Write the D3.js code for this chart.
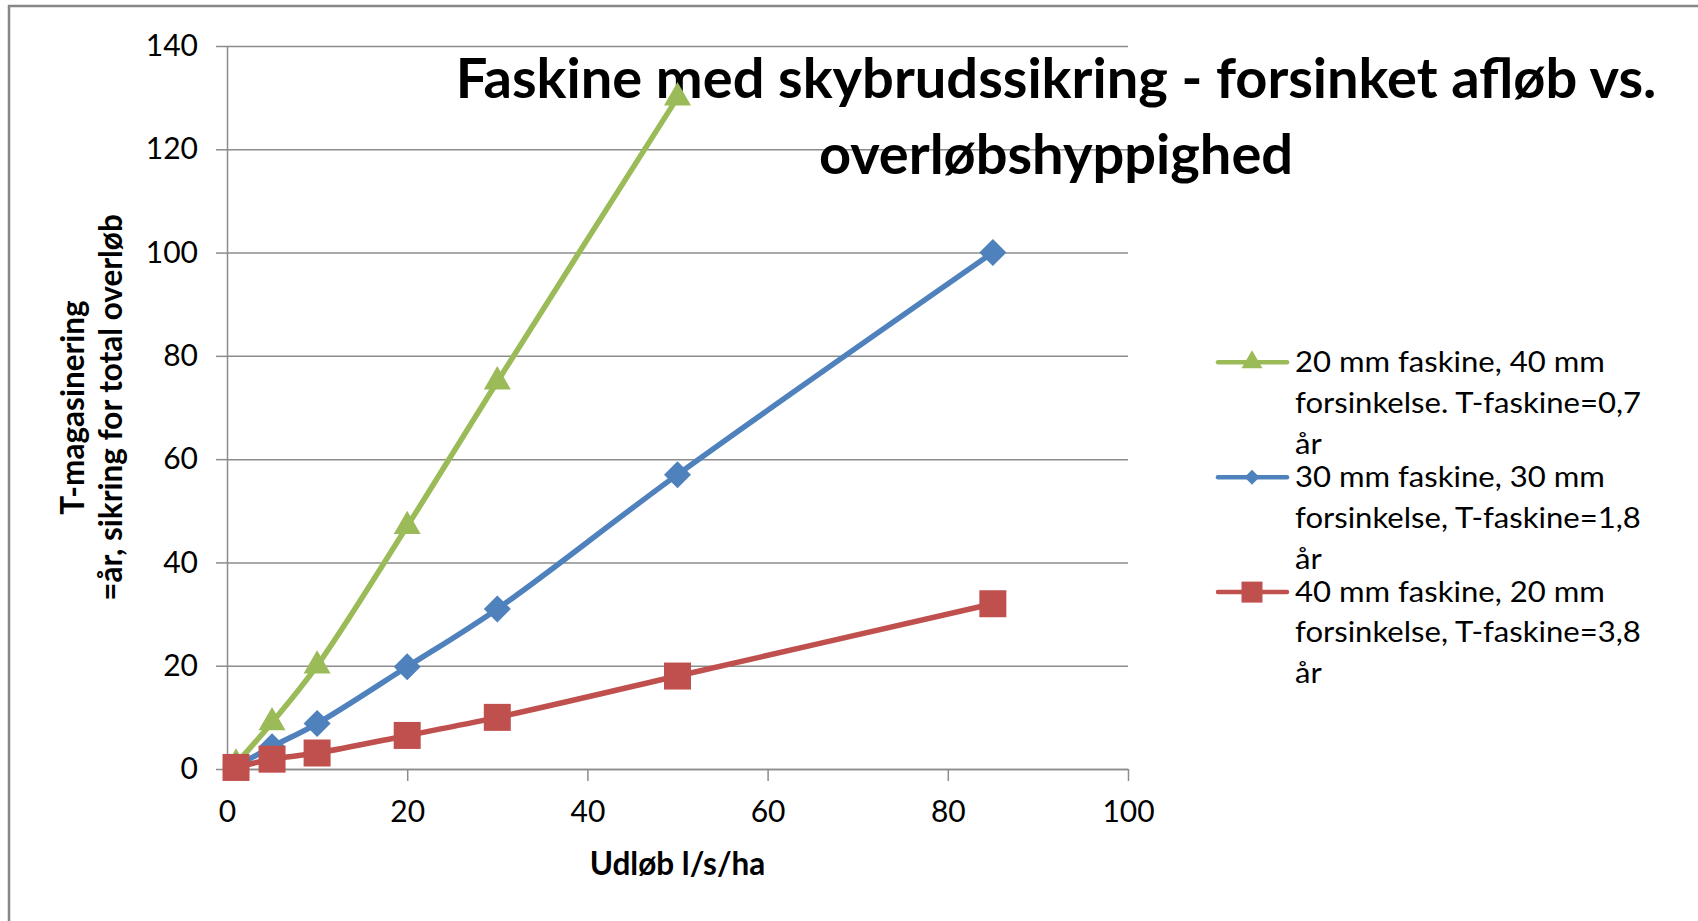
<!DOCTYPE html>
<html>
<head>
<meta charset="utf-8">
<script src="https://cdnjs.cloudflare.com/ajax/libs/d3/7.8.5/d3.min.js"></script>
<style>
	body { margin: 0; background: #fff; }
	svg { display: block; }
	text { font-family: Lato, "Open Sans", sans-serif; fill: #000; }
</style>
</head>
<body>
<div id="chart"></div>
<script>

// data
var udlob = [1, 5, 10, 20, 30, 50, 85];
var serie20mm = [1, 9, 20, 47, 75, 130];          // no value at 85
var serie30mm = [0.5, 4.3, 8.8, 19.8, 31, 57, 100];
var serie40mm = [0.3, 1.9, 3.1, 6.5, 10, 18, 32];

var xTicks = [0, 20, 40, 60, 80, 100];
var yTicks = [0, 20, 40, 60, 80, 100, 120, 140];

var titleLines = ["Faskine med skybrudssikring - forsinket afløb vs.", "overløbshyppighed"];
var xTitle = "Udløb l/s/ha";
var yTitleLines = ["T-magasinering", "=år, sikring for total overløb"];

var legendLabels = [
	["20 mm faskine, 40 mm", "forsinkelse. T-faskine=0,7", "år"],
	["30 mm faskine, 30 mm", "forsinkelse, T-faskine=1,8", "år"],
	["40 mm faskine, 20 mm", "forsinkelse, T-faskine=3,8", "år"]
];
var colors = ["#9BBB59", "#4F81BD", "#C0504D"];
var markers = ["triangle", "diamond", "square"];


var width = 1698,
	height = 921,
	plotLeft = 227, plotRight = 1128, plotTop = 46, plotBottom = 769,
	gridColor = "#8c8c8c";

var svg = d3.select("#chart").append("svg")
	.attr("width", width)
	.attr("height", height);

// chart frame (runs past the right and bottom edge of the picture)
svg.append("rect")
	.attr("x", 9).attr("y", 6)
	.attr("width", 1800).attr("height", 1000)
	.style("fill", "none")
	.style("stroke", "#878787")
	.style("stroke-width", 2.5);

var x = d3.scaleLinear().domain([0, 100]).range([plotLeft, plotRight]);
var y = d3.scaleLinear().domain([0, 140]).range([plotBottom, plotTop]);

// horizontal gridlines
svg.append("g")
	.attr("transform", "translate(" + plotLeft + ",0)")
	.call(d3.axisLeft(y).tickValues(yTicks).tickSize(-(plotRight - plotLeft)).tickFormat(""))
	.call(function (g) { g.select(".domain").remove() })
	.selectAll("line").style("stroke", gridColor).style("stroke-width", 1.5);

// y axis with labels
var yAxis = svg.append("g")
	.attr("transform", "translate(" + plotLeft + ",0)")
	.call(d3.axisLeft(y).tickValues(yTicks).tickSize(11).tickSizeOuter(0).tickPadding(18));
yAxis.selectAll("line").style("stroke", gridColor).style("stroke-width", 1.5);
yAxis.select(".domain").style("stroke", gridColor).style("stroke-width", 1.5);
yAxis.selectAll("text").style("font-size", "30px").style("font-family", "Lato").attr("fill", "#000");

// x axis
var xAxis = svg.append("g")
	.attr("transform", "translate(0," + plotBottom + ")")
	.call(d3.axisBottom(x).tickValues(xTicks).tickSize(12).tickSizeOuter(0).tickPadding(20));
xAxis.selectAll("line").style("stroke", gridColor).style("stroke-width", 1.5);
xAxis.select(".domain").style("stroke", gridColor).style("stroke-width", 1.5);
xAxis.selectAll("text").style("font-size", "30px").style("font-family", "Lato").attr("fill", "#000");

// axis titles
svg.append("text")
	.attr("x", (plotLeft + plotRight) / 2).attr("y", 875)
	.attr("text-anchor", "middle")
	.style("font-size", "31.5px").style("font-weight", "bold")
	.text(xTitle);

var yTitle = svg.append("g").attr("transform", "translate(0," + ((plotTop + plotBottom) / 2) + ") rotate(-90)");
yTitle.selectAll("text").data(yTitleLines).enter().append("text")
	.attr("x", 0)
	.attr("y", function (d, i) { return 84 + i * 38 })
	.attr("text-anchor", "middle")
	.style("font-size", "31.5px").style("font-weight", "bold")
	.text(function (d) { return d });


// title (drawn above the gridlines, under the series)
svg.selectAll(".title").data(titleLines).enter().append("text")
	.attr("class", "title")
	.attr("x", 1056)
	.attr("y", function (d, i) { return i == 0 ? 98 : 174 })
	.attr("text-anchor", "middle")
	.style("font-size", "56px").style("font-weight", "bold")
	.text(function (d) { return d });


// series
var series = [
	{ values: serie20mm, color: colors[0], marker: markers[0] },
	{ values: serie30mm, color: colors[1], marker: markers[1] },
	{ values: serie40mm, color: colors[2], marker: markers[2] }
];
series.forEach(function (s) {
	s.points = s.values.map(function (v, i) { return { x: udlob[i], y: v } });
});

function markerPath(type, size) {
	// size = width of the marker in px
	if (type == "triangle")
		return d3.symbol(d3.symbolTriangle, Math.sqrt(3) / 4 * size * size)();
	if (type == "diamond")
		return d3.symbol(d3.symbolSquare, size * size / 2)();
	return d3.symbol(d3.symbolSquare, size * size)();
}

var line = d3.line()
	.x(function (d) { return x(d.x) })
	.y(function (d) { return y(d.y) })
	.curve(d3.curveCatmullRom.alpha(0.5));

var seriesG = svg.selectAll(".serie").data(series).enter().append("g").attr("class", "serie");

seriesG.append("path")
	.attr("d", function (d) { return line(d.points) })
	.style("fill", "none")
	.style("stroke", function (d) { return d.color })
	.style("stroke-width", 5.5)
	.style("stroke-linejoin", "round");

seriesG.each(function (s) {
	d3.select(this).selectAll(".mk").data(s.points).enter().append("path")
		.attr("class", "mk")
		.attr("d", markerPath(s.marker, 27))
		.attr("transform", function (d) {
			return "translate(" + x(d.x) + "," + y(d.y) + ")" + (s.marker == "diamond" ? " rotate(45)" : "");
		})
		.style("fill", s.color);
});


// legend
var legend = svg.selectAll(".legend").data(series).enter().append("g")
	.attr("class", "legend")
	.attr("transform", function (d, i) { return "translate(0," + (362.3 + i * 114.9) + ")" });

legend.append("line")
	.attr("x1", 1218).attr("x2", 1287)
	.style("stroke", function (d) { return d.color })
	.style("stroke-width", 4.5)
	.style("stroke-linecap", "round");

legend.append("path")
	.attr("d", function (d) { return markerPath(d.marker, d.marker == "diamond" ? 15 : 21) })
	.attr("transform", function (d) { return "translate(1252,0)" + (d.marker == "diamond" ? " rotate(45)" : "") })
	.style("fill", function (d) { return d.color });

// legend text: Lato is a bit narrower than the original font, stretch it slightly
var legendStretch = 1.09;
legend.each(function (d, i) {
	d3.select(this).selectAll("text").data(legendLabels[i]).enter().append("text")
		.attr("x", 1295)
		.attr("y", function (t, j) { return 9.4 + j * 41 })
		.style("font-size", "28.5px")
		.text(function (t) { return t })
		.each(function () {
			var w = this.getComputedTextLength();
			d3.select(this).attr("textLength", w * legendStretch).attr("lengthAdjust", "spacingAndGlyphs");
		});
});

</script>
</body>
</html>
